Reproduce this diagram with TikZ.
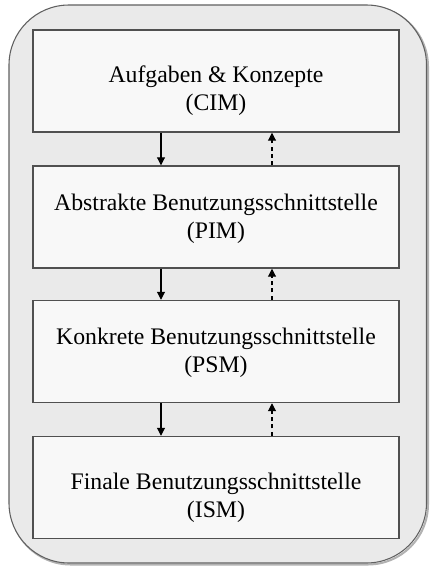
\documentclass[tikz,border=0pt]{standalone}
\usepackage{fontspec}
\setmainfont{Liberation Serif}
\usetikzlibrary{arrows.meta}
\definecolor{outerbg}{HTML}{EAEAEA}
\definecolor{boxbg}{HTML}{F8F8F8}
\definecolor{boxline}{HTML}{505050}
\definecolor{outerline}{HTML}{606060}
\tikzset{
  layerbox/.style={draw=boxline, line width=1.1pt, fill=boxbg,
    minimum width=274.5pt, minimum height=76.5pt, inner sep=0pt},
  layertext/.style={align=center, inner sep=0pt, font=\fontsize{17.8}{21}\selectfont},
  downarrow/.style={-{Triangle[length=6pt,width=6pt]}, line width=0.8pt, black},
  uparrow/.style={-{Triangle[length=6pt,width=6pt]}, line width=0.8pt, black, dash pattern=on 3pt off 2.5pt}
}
\begin{document}
\begin{tikzpicture}[x=0.75pt,y=-0.75pt]
\useasboundingbox (0,0) rectangle (430,568);
\fill[white] (0,0) rectangle (430,568);
\draw[gray!60, line width=1.5pt, rounded corners=45pt] (10.5,6.5) rectangle (428,564.5);
\draw[outerline, fill=outerbg, line width=0.8pt, rounded corners=45pt] (9,5) rectangle (426.5,563);
\node[layerbox] (b1) at (216,81) {};
\node[layerbox] (b2) at (216,217) {};
\node[layerbox] (b3) at (216,351.5) {};
\node[layerbox] (b4) at (216,487.5) {};
\node[layertext] (t1) at ([yshift=-7.5pt]b1.center) {Aufgaben \& Konzepte\\(CIM)};
\node[layertext] (t2) at ([yshift=-1pt]b2.center) {Abstrakte Benutzungsschnittstelle\\(PIM)};
\node[layertext] (t3) at ([yshift=-1pt]b3.center) {Konkrete Benutzungsschnittstelle\\(PSM)};
\node[layertext] (t4) at ([yshift=-8pt]b4.center) {Finale Benutzungsschnittstelle\\(ISM)};
\foreach \a/\b in {b1/b2,b2/b3,b3/b4}{
  \draw[downarrow] ([xshift=-41.25pt]\a.south) -- ([xshift=-41.25pt]\b.north);
  \draw[uparrow] ([xshift=42pt]\b.north) -- ([xshift=42pt]\a.south);
}
\end{tikzpicture}
\end{document}
